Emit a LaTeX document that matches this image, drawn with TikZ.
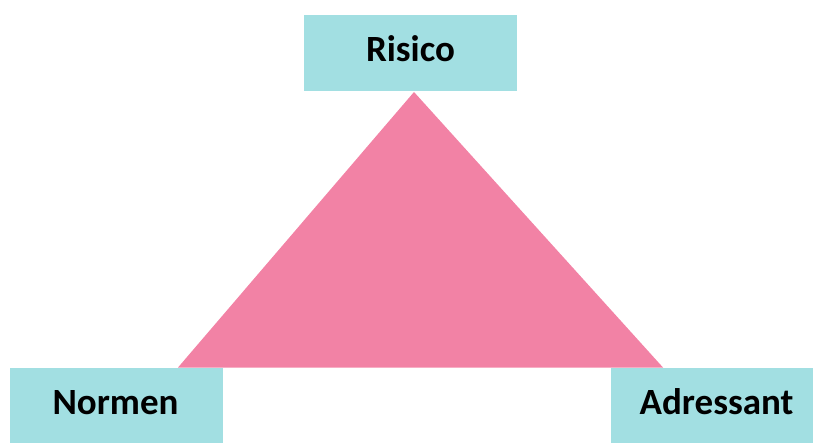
\documentclass[tikz,border=0pt]{standalone}
\usepackage{fontspec}
\setmainfont{Carlito}
\definecolor{boxteal}{HTML}{A2DFE2}
\definecolor{tripink}{HTML}{F282A5}
\begin{document}
\begin{tikzpicture}[x=1pt,y=-1pt,
  box/.style={fill=boxteal,draw=none,minimum width=213pt,minimum height=76pt,inner sep=0pt},
  lbl/.style={font=\fontsize{37}{44}\selectfont\bfseries,inner sep=0pt,anchor=base}]
\useasboundingbox (0,0) rectangle (813,443);
\clip (0,0) rectangle (813,443);
\fill[tripink] (414,92) -- (178,367.5) -- (663,367.5) -- cycle;
\node[box] (risico) at (410.5,53.5) {};
\node[box] (normen) at (116.5,405.5) {};
\node[box] (adressant) at (717.5,405.5) {};
\node[lbl] (risicot) at (410.5,62) {Risico};
\node[lbl] (norment) at (115.5,414) {Normen};
\node[lbl] (adressantt) at (716.5,414) {Adressant};
\end{tikzpicture}
\end{document}
